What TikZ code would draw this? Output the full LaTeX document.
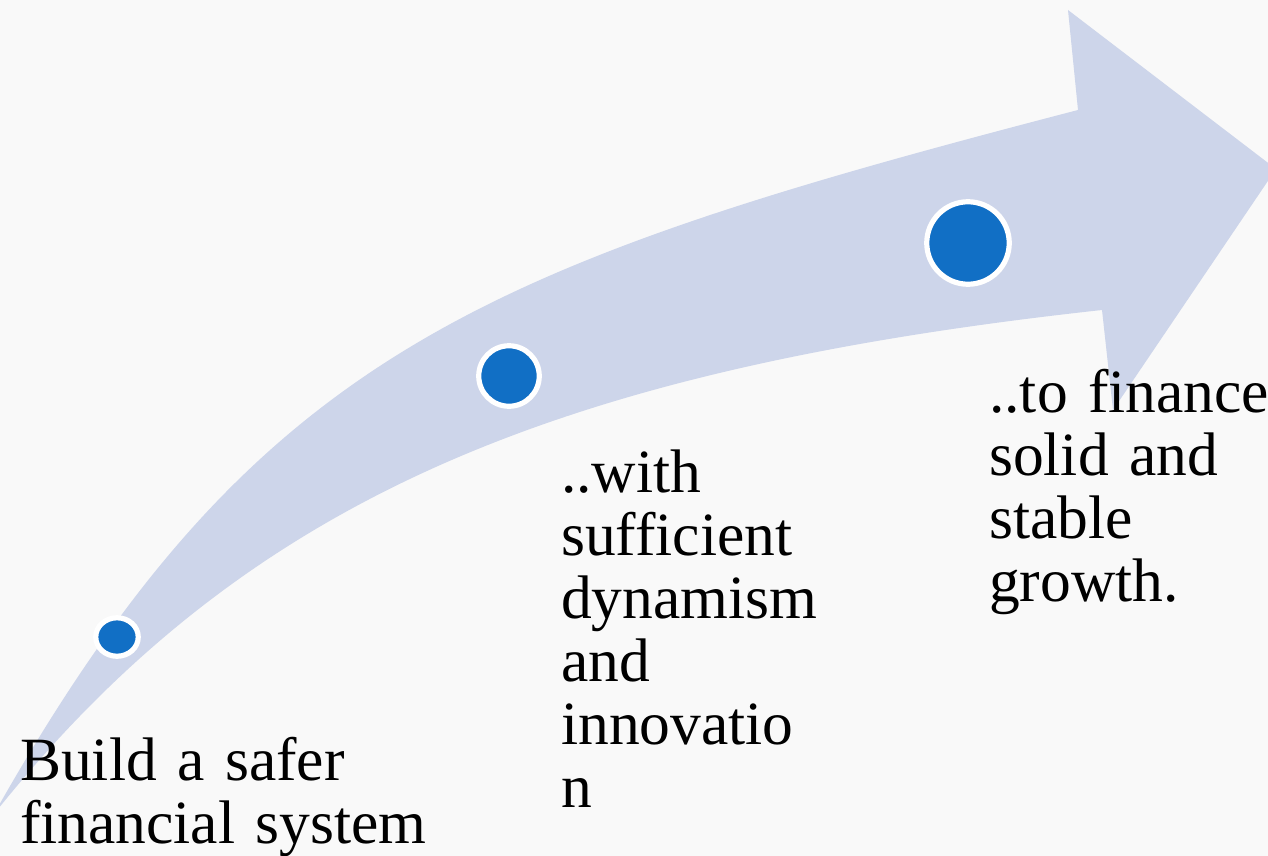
\documentclass[tikz,border=0pt]{standalone}
\usepackage{fontspec}
\setmainfont{Liberation Serif}
\usetikzlibrary{shapes.geometric}
\definecolor{bgcol}{HTML}{F9F9F9}
\definecolor{arrowcol}{HTML}{CDD5EA}
\definecolor{dotcol}{HTML}{116FC5}
\tikzset{
  dot/.style={fill=dotcol, draw=white, line width=5.2pt, inner sep=0pt},
  label/.style={anchor=base west, inner sep=0pt, text width=420pt, align=left,
    font=\fontsize{61.5}{63}\selectfont, text=black}
}
\begin{document}
\begin{tikzpicture}[x=1pt,y=-1pt]
\useasboundingbox (0,0) rectangle (1268,856);
\clip (0,0) rectangle (1268,856);
\fill[bgcol] (0,0) rectangle (1268,856);
% curved arrow
\coordinate (tail) at (-6,814);
\coordinate (us) at (1078,110);
\coordinate (ub) at (1068,10);
\coordinate (tip) at (1276,169);
\coordinate (lb) at (1113,410);
\coordinate (ls) at (1102,310);
\fill[arrowcol] (tail)
  .. controls (254,354) and (478,266) .. (us)
  -- (ub) -- (tip) -- (lb) -- (ls)
  .. controls (552,370) and (244,501) .. (tail)
  -- cycle;
% dots
\node[dot, ellipse, minimum width=42.5pt, minimum height=38.5pt] (c1) at (117,637) {};
\node[dot, circle, minimum size=60.5pt] (c2) at (509,376) {};
\node[dot, circle, minimum size=82.5pt] (c3) at (968,243) {};
% texts
\node[label] (t1) at (20,780) {Build a safer\\financial system};
\node[label] (t2) at (561,492) {..with\\sufficient\\dynamism\\and\\innovatio\\n};
\node[label] (t3) at (989,412) {..to finance\\solid and\\stable\\growth.};
\end{tikzpicture}
\end{document}
